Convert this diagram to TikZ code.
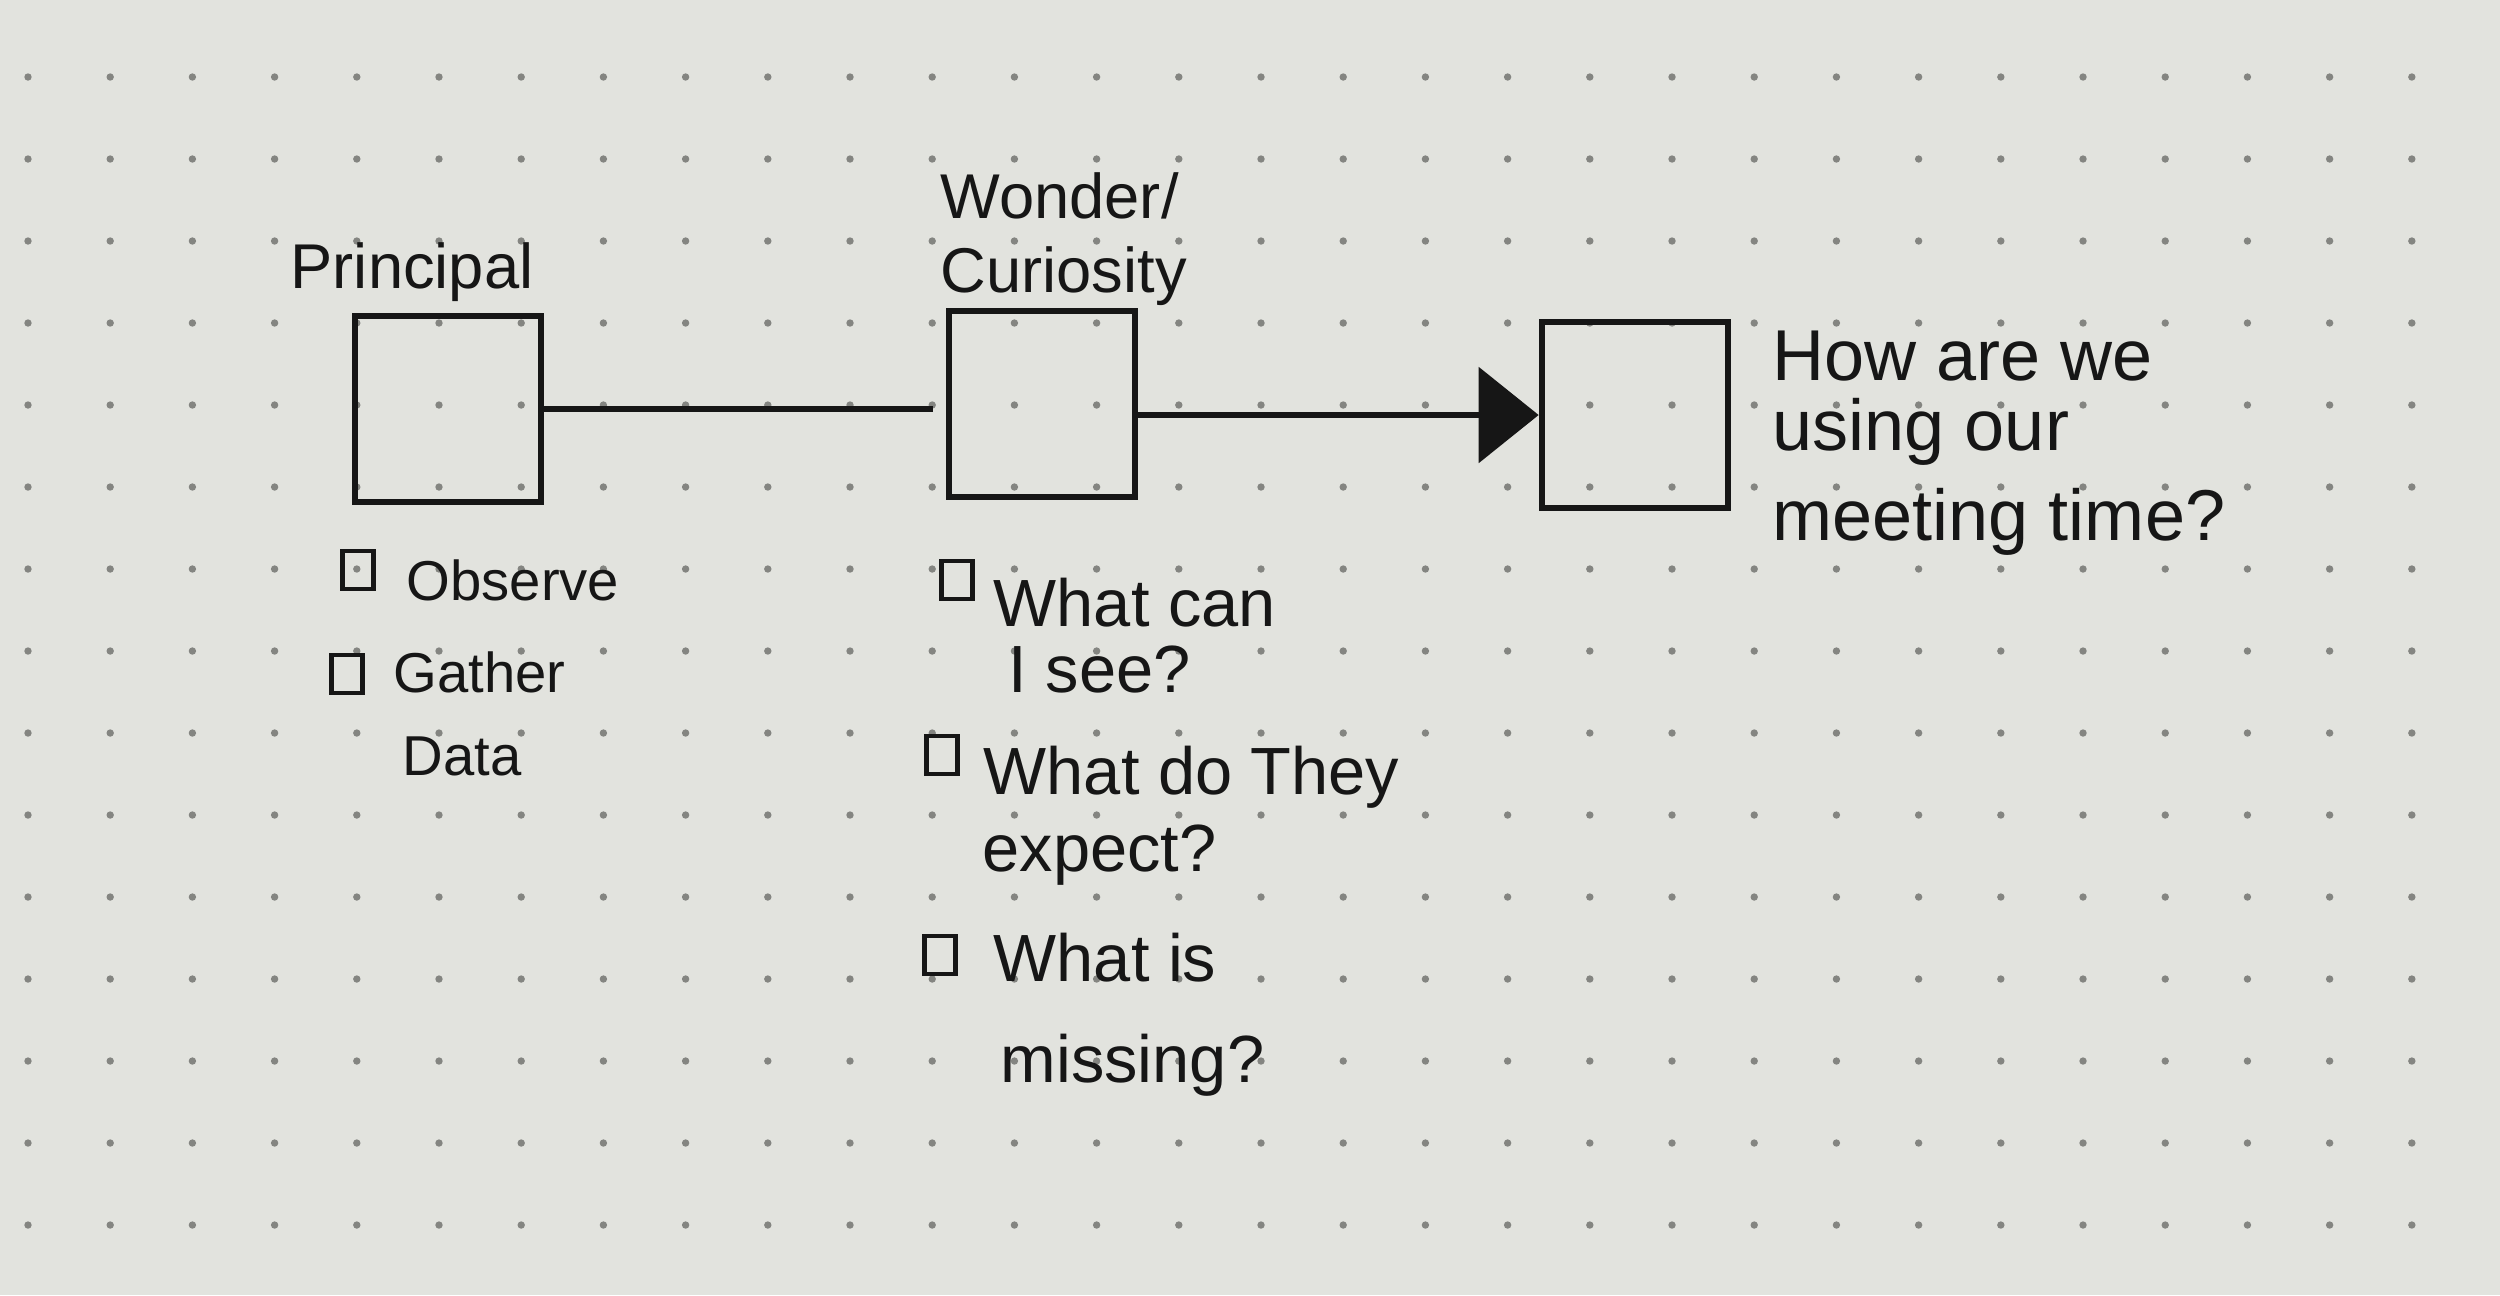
\documentclass[tikz,border=0pt]{standalone}
\usepackage{fontspec}
\setmainfont{Liberation Sans}
\usetikzlibrary{arrows.meta}

\definecolor{ink}{RGB}{22,22,22}
\definecolor{paper}{RGB}{226,227,222}
\definecolor{dotc}{RGB}{132,133,129}

\begin{document}
\begin{tikzpicture}[
  every node/.style={inner sep=0pt, text=ink},
  box/.style={draw=ink, line width=1.9pt, minimum size=1.86cm},
  tick/.style={draw=ink, line width=1.4pt, minimum width=3.1mm, minimum height=3.8mm},
  lbl/.style={anchor=base west, font=\fontsize{18}{22}\selectfont},
  item/.style={anchor=base west, font=\fontsize{16}{20}\selectfont},
  ask/.style={anchor=base west, font=\fontsize{19}{23}\selectfont},
  quest/.style={anchor=base west, font=\fontsize{20.5}{25}\selectfont},
  edge/.style={draw=ink, line width=1.7pt},
  bigarrow/.style={edge, -{Triangle[length=6mm, width=9.5mm]}}
]

% ---------- paper ----------
\fill[paper] (0,0) rectangle (25,-12.95);
\foreach \i in {0,...,29}
  \foreach \j in {0,...,14}
    \fill[dotc] (0.28+0.822*\i, -0.77-0.82*\j) circle (0.037);

% ---------- boxes ----------
\node[box] (Pbox) at (4.48,-4.09)  {};
\node[box] (Wbox) at (10.42,-4.04) {};
\node[box] (Hbox) at (16.35,-4.15) {};

\node[lbl] (Plabel) at (2.90,-2.88) {Principal};
\node[lbl] (Wlabel) at (9.40,-2.18) {Wonder/};
\node[lbl] (Clabel) at (9.40,-2.92) {Curiosity};

\node[quest] (H1) at (17.72,-3.80) {How are we};
\node[quest] (H2) at (17.72,-4.50) {using our};
\node[quest] (H3) at (17.72,-5.40) {meeting time?};

% ---------- Principal list ----------
\node[tick] (Pchk1) at (3.58,-5.70) {};
\node[item] (P1)  at (4.06,-6.00) {Observe};
\node[tick] (Pchk2) at (3.47,-6.74) {};
\node[item] (P2)  at (3.93,-6.92) {Gather};
\node[item] (P2b) at (4.02,-7.75) {Data};

% ---------- Wonder list ----------
\node[tick] (Wchk1) at (9.57,-5.80) {};
\node[ask] (W1)  at (9.93,-6.26)  {What can};
\node[ask] (W1b) at (10.08,-6.92) {I see?};
\node[tick] (Wchk2) at (9.42,-7.55) {};
\node[ask] (W2)  at (9.83,-7.94)  {What do They};
\node[ask] (W2b) at (9.82,-8.71)  {expect?};
\node[tick] (Wchk3) at (9.40,-9.55) {};
\node[ask] (W3)  at (9.93,-9.81)  {What is};
\node[ask] (W3b) at (10.00,-10.82) {missing?};

% ---------- connectors ----------
\draw[edge, shorten >=1.3mm] (Pbox.east) -- (Pbox.east -| Wbox.west);
\draw[bigarrow] (Wbox.east |- Hbox.west) -- (Hbox.west);

\end{tikzpicture}
\end{document}
